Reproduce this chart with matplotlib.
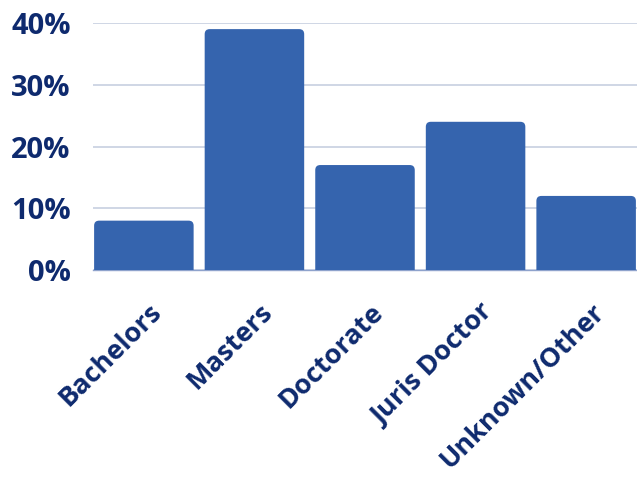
import matplotlib
matplotlib.use("Agg")
import matplotlib.pyplot as plt
import matplotlib.transforms as mtransforms
from matplotlib.patches import FancyBboxPatch
from matplotlib.ticker import FuncFormatter

# degree breakdown, percent of total
categories = ["Bachelors", "Masters", "Doctorate", "Juris Doctor", "Unknown/Other"]
shares = [8, 39, 17, 24, 12]
yticks = [0, 10, 20, 30, 40]

BAR_COLOR = "#3564AE"
TEXT_COLOR = "#0E2A6E"
GRID_COLOR = "#C7CFE0"

plt.rcParams["font.family"] = ["Open Sans", "DejaVu Sans"]

fig = plt.figure(figsize=(6.37, 4.78), dpi=100)
ax = fig.add_axes([0.146, 0.435, 0.854, 0.517])

width = 0.9
ax.set_xlim(-width / 2 - 0.01, len(categories) - 1 + width / 2 + 0.01)
ax.set_ylim(0, 40)

# rounded-top bars: box starts below zero so the bottom corners get clipped
fig.canvas.draw()
bb = ax.get_window_extent()
px_x = bb.width / (ax.get_xlim()[1] - ax.get_xlim()[0])
px_y = bb.height / (ax.get_ylim()[1] - ax.get_ylim()[0])
radius = 5 / px_x
for i, v in enumerate(shares):
    box = FancyBboxPatch((i - width / 2, -2), width, v + 2,
                         boxstyle=f"round,pad=0,rounding_size={radius}",
                         mutation_aspect=px_x / px_y,
                         facecolor=BAR_COLOR, edgecolor="none", zorder=3)
    ax.add_patch(box)

ax.set_yticks(yticks)
ax.yaxis.set_major_formatter(FuncFormatter(lambda v, p: f"{v:.0f}%"))
ax.grid(axis="y", color=GRID_COLOR, linewidth=1.2, zorder=0)
ax.set_axisbelow(True)

# category labels drawn by hand, rotated and hanging under each bar
ax.set_xticks(range(len(categories)))
ax.set_xticklabels([])
offset = mtransforms.ScaledTranslation(5 / 100, -29 / 100, fig.dpi_scale_trans)
label_tr = ax.get_xaxis_transform() + offset
for i, name in enumerate(categories):
    ax.text(i, 0, name, transform=label_tr, rotation=45, ha="right", va="top",
            rotation_mode="anchor", fontsize=19.5, fontweight="bold",
            color=TEXT_COLOR, clip_on=False)

for lab in ax.get_yticklabels():
    lab.set_fontsize(21)
    lab.set_fontweight("bold")
    lab.set_color(TEXT_COLOR)

ax.tick_params(axis="both", length=0)
ax.tick_params(axis="y", pad=16)
for side in ["top", "right", "left"]:
    ax.spines[side].set_visible(False)
ax.spines["bottom"].set_color("#8FA3CC")
ax.spines["bottom"].set_linewidth(1)

fig.savefig("out.png", dpi=100)
